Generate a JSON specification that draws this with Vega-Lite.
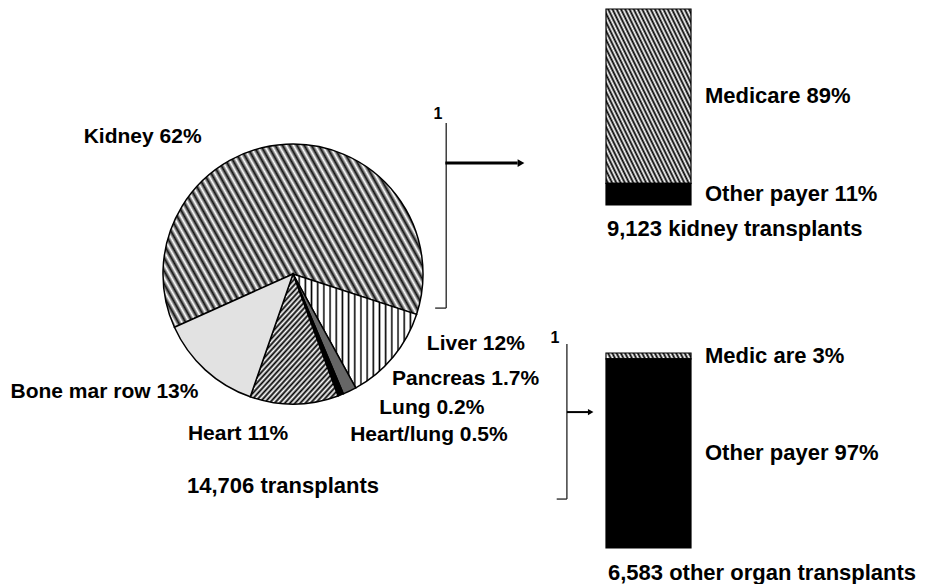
{
  "$schema": "https://vega.github.io/schema/vega-lite/v6.json",
  "padding": {"left": 0, "top": 8, "right": 0, "bottom": 0},
  "background": "white",
  "config": {"view": {"stroke": null}, "font": "Liberation Sans"},
  "datasets": {
    "organs": [
      {"organ": "Kidney", "pct": 62, "rank": 1, "label": "Kidney 62%"},
      {"organ": "Liver", "pct": 12, "rank": 2, "label": "Liver 12%"},
      {"organ": "Pancreas", "pct": 1.7, "rank": 3, "label": "Pancreas 1.7%"},
      {"organ": "Heart/lung", "pct": 0.5, "rank": 4, "label": "Heart/lung 0.5%"},
      {"organ": "Lung", "pct": 0.2, "rank": 5, "label": "Lung 0.2%"},
      {"organ": "Heart", "pct": 11, "rank": 6, "label": "Heart 11%"},
      {"organ": "Bone marrow", "pct": 13, "rank": 7, "label": "Bone mar row 13%"}
    ],
    "kidneyPayer": [
      {"payer": "Medicare", "pct": 89, "label": "Medicare 89%"},
      {"payer": "Other payer", "pct": 11, "label": "Other payer 11%"}
    ],
    "otherPayer": [
      {"payer": "Medicare", "pct": 3, "label": "Medic are 3%"},
      {"payer": "Other payer", "pct": 97, "label": "Other payer 97%"}
    ]
  },
  "spacing": 20,
  "bounds": "flush",
  "hconcat": [
    {
      "width": 586,
      "height": 530,
      "data": {"name": "organs"},
      "title": {"text": "14,706 transplants", "orient": "bottom", "anchor": "start", "frame": "group", "dx": 187, "offset": -46, "baseline": "alphabetic", "font": "Liberation Sans", "fontSize": 22, "fontWeight": "bold", "color": "#000"},
      "layer": [
        {
          "mark": {"type": "arc", "radius": 130, "stroke": "#000", "strokeWidth": 1.5},
          "encoding": {
            "theta": {"field": "pct", "type": "quantitative", "stack": true, "scale": {"range": [4.2900, 10.5732]}},
            "order": {"field": "rank", "type": "quantitative"},
            "detail": {"field": "organ", "type": "nominal"},
            "fill": {
              "condition": [
                {"test": "datum.organ === 'Kidney'", "value": {"gradient": "linear", "x1": 0, "y1": 1, "x2": 1.207, "y2": 0.525, "stops": [
                  {"offset":0,"color":"#fff"},{"offset":0.01,"color":"#111"},{"offset":0.02,"color":"#fff"},{"offset":0.03,"color":"#111"},{"offset":0.04,"color":"#fff"},{"offset":0.05,"color":"#111"},{"offset":0.06,"color":"#fff"},{"offset":0.07,"color":"#111"},{"offset":0.08,"color":"#fff"},{"offset":0.09,"color":"#111"},
                  {"offset":0.1,"color":"#fff"},{"offset":0.11,"color":"#111"},{"offset":0.12,"color":"#fff"},{"offset":0.13,"color":"#111"},{"offset":0.14,"color":"#fff"},{"offset":0.15,"color":"#111"},{"offset":0.16,"color":"#fff"},{"offset":0.17,"color":"#111"},{"offset":0.18,"color":"#fff"},{"offset":0.19,"color":"#111"},
                  {"offset":0.2,"color":"#fff"},{"offset":0.21,"color":"#111"},{"offset":0.22,"color":"#fff"},{"offset":0.23,"color":"#111"},{"offset":0.24,"color":"#fff"},{"offset":0.25,"color":"#111"},{"offset":0.26,"color":"#fff"},{"offset":0.27,"color":"#111"},{"offset":0.28,"color":"#fff"},{"offset":0.29,"color":"#111"},
                  {"offset":0.3,"color":"#fff"},{"offset":0.31,"color":"#111"},{"offset":0.32,"color":"#fff"},{"offset":0.33,"color":"#111"},{"offset":0.34,"color":"#fff"},{"offset":0.35,"color":"#111"},{"offset":0.36,"color":"#fff"},{"offset":0.37,"color":"#111"},{"offset":0.38,"color":"#fff"},{"offset":0.39,"color":"#111"},
                  {"offset":0.4,"color":"#fff"},{"offset":0.41,"color":"#111"},{"offset":0.42,"color":"#fff"},{"offset":0.43,"color":"#111"},{"offset":0.44,"color":"#fff"},{"offset":0.45,"color":"#111"},{"offset":0.46,"color":"#fff"},{"offset":0.47,"color":"#111"},{"offset":0.48,"color":"#fff"},{"offset":0.49,"color":"#111"},
                  {"offset":0.5,"color":"#fff"},{"offset":0.51,"color":"#111"},{"offset":0.52,"color":"#fff"},{"offset":0.53,"color":"#111"},{"offset":0.54,"color":"#fff"},{"offset":0.55,"color":"#111"},{"offset":0.56,"color":"#fff"},{"offset":0.57,"color":"#111"},{"offset":0.58,"color":"#fff"},{"offset":0.59,"color":"#111"},
                  {"offset":0.6,"color":"#fff"},{"offset":0.61,"color":"#111"},{"offset":0.62,"color":"#fff"},{"offset":0.63,"color":"#111"},{"offset":0.64,"color":"#fff"},{"offset":0.65,"color":"#111"},{"offset":0.66,"color":"#fff"},{"offset":0.67,"color":"#111"},{"offset":0.68,"color":"#fff"},{"offset":0.69,"color":"#111"},
                  {"offset":0.7,"color":"#fff"},{"offset":0.71,"color":"#111"},{"offset":0.72,"color":"#fff"},{"offset":0.73,"color":"#111"},{"offset":0.74,"color":"#fff"},{"offset":0.75,"color":"#111"},{"offset":0.76,"color":"#fff"},{"offset":0.77,"color":"#111"},{"offset":0.78,"color":"#fff"},{"offset":0.79,"color":"#111"},
                  {"offset":0.8,"color":"#fff"},{"offset":0.81,"color":"#111"},{"offset":0.82,"color":"#fff"},{"offset":0.83,"color":"#111"},{"offset":0.84,"color":"#fff"},{"offset":0.85,"color":"#111"},{"offset":0.86,"color":"#fff"},{"offset":0.87,"color":"#111"},{"offset":0.88,"color":"#fff"},{"offset":0.89,"color":"#111"},
                  {"offset":0.9,"color":"#fff"},{"offset":0.91,"color":"#111"},{"offset":0.92,"color":"#fff"},{"offset":0.93,"color":"#111"},{"offset":0.94,"color":"#fff"},{"offset":0.95,"color":"#111"},{"offset":0.96,"color":"#fff"},{"offset":0.97,"color":"#111"},{"offset":0.98,"color":"#fff"},{"offset":0.99,"color":"#111"},
                  {"offset":1,"color":"#fff"}]}},
                {"test": "datum.organ === 'Liver'", "value": {"gradient": "linear", "x1": 0, "y1": 0, "x2": 1, "y2": 0, "stops": [
                  {"offset":0,"color":"#000"},{"offset":0.0125,"color":"#fff"},{"offset":0.0375,"color":"#fff"},{"offset":0.05,"color":"#000"},{"offset":0.0625,"color":"#fff"},{"offset":0.0875,"color":"#fff"},
                  {"offset":0.1,"color":"#000"},{"offset":0.1125,"color":"#fff"},{"offset":0.1375,"color":"#fff"},{"offset":0.15,"color":"#000"},{"offset":0.1625,"color":"#fff"},{"offset":0.1875,"color":"#fff"},
                  {"offset":0.2,"color":"#000"},{"offset":0.2125,"color":"#fff"},{"offset":0.2375,"color":"#fff"},{"offset":0.25,"color":"#000"},{"offset":0.2625,"color":"#fff"},{"offset":0.2875,"color":"#fff"},
                  {"offset":0.3,"color":"#000"},{"offset":0.3125,"color":"#fff"},{"offset":0.3375,"color":"#fff"},{"offset":0.35,"color":"#000"},{"offset":0.3625,"color":"#fff"},{"offset":0.3875,"color":"#fff"},
                  {"offset":0.4,"color":"#000"},{"offset":0.4125,"color":"#fff"},{"offset":0.4375,"color":"#fff"},{"offset":0.45,"color":"#000"},{"offset":0.4625,"color":"#fff"},{"offset":0.4875,"color":"#fff"},
                  {"offset":0.5,"color":"#000"},{"offset":0.5125,"color":"#fff"},{"offset":0.5375,"color":"#fff"},{"offset":0.55,"color":"#000"},{"offset":0.5625,"color":"#fff"},{"offset":0.5875,"color":"#fff"},
                  {"offset":0.6,"color":"#000"},{"offset":0.6125,"color":"#fff"},{"offset":0.6375,"color":"#fff"},{"offset":0.65,"color":"#000"},{"offset":0.6625,"color":"#fff"},{"offset":0.6875,"color":"#fff"},
                  {"offset":0.7,"color":"#000"},{"offset":0.7125,"color":"#fff"},{"offset":0.7375,"color":"#fff"},{"offset":0.75,"color":"#000"},{"offset":0.7625,"color":"#fff"},{"offset":0.7875,"color":"#fff"},
                  {"offset":0.8,"color":"#000"},{"offset":0.8125,"color":"#fff"},{"offset":0.8375,"color":"#fff"},{"offset":0.85,"color":"#000"},{"offset":0.8625,"color":"#fff"},{"offset":0.8875,"color":"#fff"},
                  {"offset":0.9,"color":"#000"},{"offset":0.9125,"color":"#fff"},{"offset":0.9375,"color":"#fff"},{"offset":0.95,"color":"#000"},{"offset":0.9625,"color":"#fff"},{"offset":0.9875,"color":"#fff"},
                  {"offset":1,"color":"#000"}]}},
                {"test": "datum.organ === 'Heart'", "value": {"gradient": "linear", "x1": 0, "y1": 0, "x2": 0.836, "y2": 1.122, "stops": [
                  {"offset":0,"color":"#fff"},{"offset":0.0125,"color":"#000"},{"offset":0.025,"color":"#fff"},{"offset":0.0375,"color":"#000"},{"offset":0.05,"color":"#fff"},{"offset":0.0625,"color":"#000"},{"offset":0.075,"color":"#fff"},{"offset":0.0875,"color":"#000"},
                  {"offset":0.1,"color":"#fff"},{"offset":0.1125,"color":"#000"},{"offset":0.125,"color":"#fff"},{"offset":0.1375,"color":"#000"},{"offset":0.15,"color":"#fff"},{"offset":0.1625,"color":"#000"},{"offset":0.175,"color":"#fff"},{"offset":0.1875,"color":"#000"},
                  {"offset":0.2,"color":"#fff"},{"offset":0.2125,"color":"#000"},{"offset":0.225,"color":"#fff"},{"offset":0.2375,"color":"#000"},{"offset":0.25,"color":"#fff"},{"offset":0.2625,"color":"#000"},{"offset":0.275,"color":"#fff"},{"offset":0.2875,"color":"#000"},
                  {"offset":0.3,"color":"#fff"},{"offset":0.3125,"color":"#000"},{"offset":0.325,"color":"#fff"},{"offset":0.3375,"color":"#000"},{"offset":0.35,"color":"#fff"},{"offset":0.3625,"color":"#000"},{"offset":0.375,"color":"#fff"},{"offset":0.3875,"color":"#000"},
                  {"offset":0.4,"color":"#fff"},{"offset":0.4125,"color":"#000"},{"offset":0.425,"color":"#fff"},{"offset":0.4375,"color":"#000"},{"offset":0.45,"color":"#fff"},{"offset":0.4625,"color":"#000"},{"offset":0.475,"color":"#fff"},{"offset":0.4875,"color":"#000"},
                  {"offset":0.5,"color":"#fff"},{"offset":0.5125,"color":"#000"},{"offset":0.525,"color":"#fff"},{"offset":0.5375,"color":"#000"},{"offset":0.55,"color":"#fff"},{"offset":0.5625,"color":"#000"},{"offset":0.575,"color":"#fff"},{"offset":0.5875,"color":"#000"},
                  {"offset":0.6,"color":"#fff"},{"offset":0.6125,"color":"#000"},{"offset":0.625,"color":"#fff"},{"offset":0.6375,"color":"#000"},{"offset":0.65,"color":"#fff"},{"offset":0.6625,"color":"#000"},{"offset":0.675,"color":"#fff"},{"offset":0.6875,"color":"#000"},
                  {"offset":0.7,"color":"#fff"},{"offset":0.7125,"color":"#000"},{"offset":0.725,"color":"#fff"},{"offset":0.7375,"color":"#000"},{"offset":0.75,"color":"#fff"},{"offset":0.7625,"color":"#000"},{"offset":0.775,"color":"#fff"},{"offset":0.7875,"color":"#000"},
                  {"offset":0.8,"color":"#fff"},{"offset":0.8125,"color":"#000"},{"offset":0.825,"color":"#fff"},{"offset":0.8375,"color":"#000"},{"offset":0.85,"color":"#fff"},{"offset":0.8625,"color":"#000"},{"offset":0.875,"color":"#fff"},{"offset":0.8875,"color":"#000"},
                  {"offset":0.9,"color":"#fff"},{"offset":0.9125,"color":"#000"},{"offset":0.925,"color":"#fff"},{"offset":0.9375,"color":"#000"},{"offset":0.95,"color":"#fff"},{"offset":0.9625,"color":"#000"},{"offset":0.975,"color":"#fff"},{"offset":0.9875,"color":"#000"},
                  {"offset":1,"color":"#fff"}]}},
                {"test": "datum.organ === 'Bone marrow'", "value": "#e2e2e2"},
                {"test": "datum.organ === 'Pancreas'", "value": "#666666"}
              ],
              "value": "#000000"
            }
          }
        },
        {
          "mark": {
            "type": "text", "radius": 140, "font": "Liberation Sans", "fontSize": 21, "fontWeight": "bold", "color": "#000", "baseline": "alphabetic",
            "align": {"expr": "datum.organ === 'Kidney' || datum.organ === 'Bone marrow' || datum.organ === 'Heart' ? 'right' : 'left'"},
            "dx": {"expr": "datum.organ === 'Kidney' ? -84 : datum.organ === 'Bone marrow' ? 0 : datum.organ === 'Heart' ? -6 : datum.organ === 'Liver' ? 26 : datum.organ === 'Pancreas' ? 38 : datum.organ === 'Lung' ? 37 : 5"},
            "dy": {"expr": "datum.organ === 'Kidney' ? 9 : datum.organ === 'Bone marrow' ? 21 : datum.organ === 'Heart' ? 26 : datum.organ === 'Liver' ? -13 : datum.organ === 'Pancreas' ? -15 : datum.organ === 'Lung' ? 9 : 37"}
          },
          "encoding": {
            "theta": {"field": "pct", "type": "quantitative", "stack": true},
            "order": {"field": "rank", "type": "quantitative"},
            "detail": {"field": "organ", "type": "nominal"},
            "text": {"field": "label", "type": "nominal"}
          }
        }
      ]
    },
    {
      "spacing": 148,
      "bounds": "flush",
      "vconcat": [
        {
          "width": 85,
          "height": 196,
          "layer": [
            {
              "data": {"name": "kidneyPayer"},
              "transform": [{"stack": "pct", "groupby": [], "sort": [{"field": "payer", "order": "descending"}], "as": ["p0", "p1"]}],
              "mark": {"type": "bar", "stroke": "#000", "strokeWidth": 1.2},
              "encoding": {
                "x": {"datum": 0, "type": "quantitative", "scale": {"domain": [0, 1], "nice": false}, "axis": null},
                "x2": {"datum": 1},
                "y": {"field": "p1", "type": "quantitative", "scale": {"domain": [0, 100], "nice": false}, "axis": null},
                "y2": {"field": "p0"},
                "fill": {
                  "condition": {"test": "datum.payer === 'Medicare'", "value": {"gradient": "linear", "x1": 0, "y1": 1, "x2": 1, "y2": 0, "stops": [
                    {"offset":0,"color":"#fff"},{"offset":0.0125,"color":"#000"},{"offset":0.025,"color":"#fff"},{"offset":0.0375,"color":"#000"},{"offset":0.05,"color":"#fff"},{"offset":0.0625,"color":"#000"},{"offset":0.075,"color":"#fff"},{"offset":0.0875,"color":"#000"},
                    {"offset":0.1,"color":"#fff"},{"offset":0.1125,"color":"#000"},{"offset":0.125,"color":"#fff"},{"offset":0.1375,"color":"#000"},{"offset":0.15,"color":"#fff"},{"offset":0.1625,"color":"#000"},{"offset":0.175,"color":"#fff"},{"offset":0.1875,"color":"#000"},
                    {"offset":0.2,"color":"#fff"},{"offset":0.2125,"color":"#000"},{"offset":0.225,"color":"#fff"},{"offset":0.2375,"color":"#000"},{"offset":0.25,"color":"#fff"},{"offset":0.2625,"color":"#000"},{"offset":0.275,"color":"#fff"},{"offset":0.2875,"color":"#000"},
                    {"offset":0.3,"color":"#fff"},{"offset":0.3125,"color":"#000"},{"offset":0.325,"color":"#fff"},{"offset":0.3375,"color":"#000"},{"offset":0.35,"color":"#fff"},{"offset":0.3625,"color":"#000"},{"offset":0.375,"color":"#fff"},{"offset":0.3875,"color":"#000"},
                    {"offset":0.4,"color":"#fff"},{"offset":0.4125,"color":"#000"},{"offset":0.425,"color":"#fff"},{"offset":0.4375,"color":"#000"},{"offset":0.45,"color":"#fff"},{"offset":0.4625,"color":"#000"},{"offset":0.475,"color":"#fff"},{"offset":0.4875,"color":"#000"},
                    {"offset":0.5,"color":"#fff"},{"offset":0.5125,"color":"#000"},{"offset":0.525,"color":"#fff"},{"offset":0.5375,"color":"#000"},{"offset":0.55,"color":"#fff"},{"offset":0.5625,"color":"#000"},{"offset":0.575,"color":"#fff"},{"offset":0.5875,"color":"#000"},
                    {"offset":0.6,"color":"#fff"},{"offset":0.6125,"color":"#000"},{"offset":0.625,"color":"#fff"},{"offset":0.6375,"color":"#000"},{"offset":0.65,"color":"#fff"},{"offset":0.6625,"color":"#000"},{"offset":0.675,"color":"#fff"},{"offset":0.6875,"color":"#000"},
                    {"offset":0.7,"color":"#fff"},{"offset":0.7125,"color":"#000"},{"offset":0.725,"color":"#fff"},{"offset":0.7375,"color":"#000"},{"offset":0.75,"color":"#fff"},{"offset":0.7625,"color":"#000"},{"offset":0.775,"color":"#fff"},{"offset":0.7875,"color":"#000"},
                    {"offset":0.8,"color":"#fff"},{"offset":0.8125,"color":"#000"},{"offset":0.825,"color":"#fff"},{"offset":0.8375,"color":"#000"},{"offset":0.85,"color":"#fff"},{"offset":0.8625,"color":"#000"},{"offset":0.875,"color":"#fff"},{"offset":0.8875,"color":"#000"},
                    {"offset":0.9,"color":"#fff"},{"offset":0.9125,"color":"#000"},{"offset":0.925,"color":"#fff"},{"offset":0.9375,"color":"#000"},{"offset":0.95,"color":"#fff"},{"offset":0.9625,"color":"#000"},{"offset":0.975,"color":"#fff"},{"offset":0.9875,"color":"#000"},
                    {"offset":1,"color":"#fff"}]}},
                  "value": "#000000"
                }
              }
            },
            {
              "data": {"name": "kidneyPayer"},
              "mark": {"type": "text", "align": "left", "baseline": "middle", "dx": 14, "font": "Liberation Sans", "fontSize": 22, "fontWeight": "bold", "color": "#000"},
              "encoding": {
                "x": {"datum": 1, "type": "quantitative"},
                "y": {"field": "pct", "type": "quantitative", "stack": "zero", "bandPosition": 0.5},
                "order": {"field": "payer", "type": "nominal", "sort": "descending"},
                "detail": {"field": "payer", "type": "nominal"},
                "text": {"field": "label", "type": "nominal"}
              }
            },
            {
              "data": {"values": [{"caption": "9,123 kidney transplants"}]},
              "mark": {"type": "text", "align": "left", "baseline": "alphabetic", "dx": 1, "font": "Liberation Sans", "fontSize": 22, "fontWeight": "bold", "color": "#000"},
              "encoding": {"x": {"datum": 0, "type": "quantitative"}, "y": {"datum": -15.8, "type": "quantitative"}, "text": {"field": "caption", "type": "nominal"}}
            },
            {
              "data": {"values": [{}]},
              "mark": {"type": "rule", "color": "#222", "strokeWidth": 1.3},
              "encoding": {"x": {"datum": -1.88, "type": "quantitative"}, "y": {"datum": 41.8, "type": "quantitative"}, "y2": {"datum": -52.6}}
            },
            {
              "data": {"values": [{}]},
              "mark": {"type": "rule", "color": "#222", "strokeWidth": 1.3},
              "encoding": {"x": {"datum": -2.01, "type": "quantitative"}, "x2": {"datum": -1.88}, "y": {"datum": -52.6, "type": "quantitative"}}
            },
            {
              "data": {"values": [{}]},
              "mark": {"type": "rule", "color": "#000", "strokeWidth": 3},
              "encoding": {"x": {"datum": -1.89, "type": "quantitative"}, "x2": {"datum": -1.04}, "y": {"datum": 21.4, "type": "quantitative"}}
            },
            {
              "data": {"values": [{}]},
              "mark": {"type": "point", "shape": "triangle-right", "filled": true, "size": 60, "color": "#000", "opacity": 1},
              "encoding": {"x": {"datum": -1.0, "type": "quantitative"}, "y": {"datum": 21.4, "type": "quantitative"}}
            },
            {
              "data": {"values": [{}]},
              "mark": {"type": "text", "text": "1", "align": "center", "baseline": "middle", "font": "Liberation Sans", "fontSize": 16, "fontWeight": "bold", "color": "#000"},
              "encoding": {"x": {"datum": -1.976, "type": "quantitative"}, "y": {"datum": 46.4, "type": "quantitative"}}
            }
          ]
        },
        {
          "width": 85,
          "height": 195,
          "layer": [
            {
              "data": {"name": "otherPayer"},
              "transform": [{"stack": "pct", "groupby": [], "sort": [{"field": "payer", "order": "descending"}], "as": ["p0", "p1"]}],
              "mark": {"type": "bar", "stroke": "#000", "strokeWidth": 1.2},
              "encoding": {
                "x": {"datum": 0, "type": "quantitative", "scale": {"domain": [0, 1], "nice": false}, "axis": null},
                "x2": {"datum": 1},
                "y": {"field": "p1", "type": "quantitative", "scale": {"domain": [0, 100], "nice": false}, "axis": null},
                "y2": {"field": "p0"},
                "fill": {
                  "condition": {"test": "datum.payer === 'Medicare'", "value": {"gradient": "linear", "x1": 0, "y1": 0.035, "x2": 1, "y2": 0, "stops": [
                    {"offset":0,"color":"#fff"},{"offset":0.025,"color":"#000"},{"offset":0.05,"color":"#fff"},{"offset":0.075,"color":"#000"},{"offset":0.1,"color":"#fff"},{"offset":0.125,"color":"#000"},{"offset":0.15,"color":"#fff"},{"offset":0.175,"color":"#000"},
                    {"offset":0.2,"color":"#fff"},{"offset":0.225,"color":"#000"},{"offset":0.25,"color":"#fff"},{"offset":0.275,"color":"#000"},{"offset":0.3,"color":"#fff"},{"offset":0.325,"color":"#000"},{"offset":0.35,"color":"#fff"},{"offset":0.375,"color":"#000"},
                    {"offset":0.4,"color":"#fff"},{"offset":0.425,"color":"#000"},{"offset":0.45,"color":"#fff"},{"offset":0.475,"color":"#000"},{"offset":0.5,"color":"#fff"},{"offset":0.525,"color":"#000"},{"offset":0.55,"color":"#fff"},{"offset":0.575,"color":"#000"},
                    {"offset":0.6,"color":"#fff"},{"offset":0.625,"color":"#000"},{"offset":0.65,"color":"#fff"},{"offset":0.675,"color":"#000"},{"offset":0.7,"color":"#fff"},{"offset":0.725,"color":"#000"},{"offset":0.75,"color":"#fff"},{"offset":0.775,"color":"#000"},
                    {"offset":0.8,"color":"#fff"},{"offset":0.825,"color":"#000"},{"offset":0.85,"color":"#fff"},{"offset":0.875,"color":"#000"},{"offset":0.9,"color":"#fff"},{"offset":0.925,"color":"#000"},{"offset":0.95,"color":"#fff"},{"offset":0.975,"color":"#000"},
                    {"offset":1,"color":"#fff"}]}},
                  "value": "#000000"
                }
              }
            },
            {
              "data": {"name": "otherPayer"},
              "mark": {"type": "text", "align": "left", "baseline": "middle", "dx": 14, "font": "Liberation Sans", "fontSize": 22, "fontWeight": "bold", "color": "#000"},
              "encoding": {
                "x": {"datum": 1, "type": "quantitative"},
                "y": {"field": "pct", "type": "quantitative", "stack": "zero", "bandPosition": 0.5},
                "order": {"field": "payer", "type": "nominal", "sort": "descending"},
                "detail": {"field": "payer", "type": "nominal"},
                "text": {"field": "label", "type": "nominal"}
              }
            },
            {
              "data": {"values": [{"caption": "6,583 other organ transplants"}]},
              "mark": {"type": "text", "align": "left", "baseline": "alphabetic", "dx": 2, "font": "Liberation Sans", "fontSize": 22, "fontWeight": "bold", "color": "#000"},
              "encoding": {"x": {"datum": 0, "type": "quantitative"}, "y": {"datum": -16.4, "type": "quantitative"}, "text": {"field": "caption", "type": "nominal"}}
            },
            {
              "data": {"values": [{}]},
              "mark": {"type": "rule", "color": "#222", "strokeWidth": 1.3},
              "encoding": {"x": {"datum": -0.46, "type": "quantitative"}, "y": {"datum": 104.6, "type": "quantitative"}, "y2": {"datum": 25.1}}
            },
            {
              "data": {"values": [{}]},
              "mark": {"type": "rule", "color": "#222", "strokeWidth": 1.3},
              "encoding": {"x": {"datum": -0.58, "type": "quantitative"}, "x2": {"datum": -0.46}, "y": {"datum": 25.1, "type": "quantitative"}}
            },
            {
              "data": {"values": [{}]},
              "mark": {"type": "rule", "color": "#000", "strokeWidth": 2},
              "encoding": {"x": {"datum": -0.46, "type": "quantitative"}, "x2": {"datum": -0.21}, "y": {"datum": 69.7, "type": "quantitative"}}
            },
            {
              "data": {"values": [{}]},
              "mark": {"type": "point", "shape": "triangle-right", "filled": true, "size": 40, "color": "#000", "opacity": 1},
              "encoding": {"x": {"datum": -0.18, "type": "quantitative"}, "y": {"datum": 69.7, "type": "quantitative"}}
            },
            {
              "data": {"values": [{}]},
              "mark": {"type": "text", "text": "1", "align": "center", "baseline": "middle", "font": "Liberation Sans", "fontSize": 16, "fontWeight": "bold", "color": "#000"},
              "encoding": {"x": {"datum": -0.6, "type": "quantitative"}, "y": {"datum": 107.7, "type": "quantitative"}}
            }
          ]
        }
      ]
    }
  ]
}
